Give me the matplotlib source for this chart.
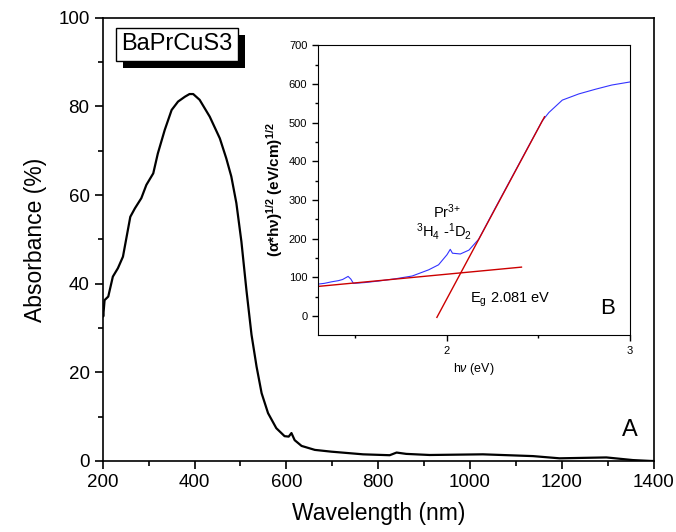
import matplotlib
matplotlib.use('Agg')
import matplotlib.pyplot as plt
import matplotlib.patheffects as pe
import numpy as np

plt.rcParams['font.family'] = ['Liberation Sans', 'DejaVu Sans']
plt.rcParams['mathtext.fontset'] = 'custom'
plt.rcParams['mathtext.rm'] = 'Liberation Sans'
plt.rcParams['mathtext.it'] = 'Liberation Sans:italic'
plt.rcParams['mathtext.bf'] = 'Liberation Sans:bold'

# main spectrum: wavelength (nm) vs absorbance (%)
wavelength = [200, 201, 204, 212, 222, 233, 244, 252, 260, 270, 284, 295, 310, 320,
              335, 350, 364, 379, 389, 397, 411, 433, 455, 469, 480, 491, 502, 513,
              524, 535, 546, 560, 578, 596, 605, 611, 618, 633, 662, 698, 767, 825,
              840, 861, 912, 1028, 1137, 1195, 1297, 1355, 1395, 1400]
absorbance = [34.0, 32.6, 36.3, 37.1, 41.6, 43.5, 46.1, 50.6, 55.1, 57.0, 59.3, 62.3,
              64.9, 69.4, 74.7, 79.2, 81.1, 82.2, 82.8, 82.8, 81.5, 77.7, 72.8, 68.3,
              64.2, 58.2, 49.5, 38.5, 28.5, 21.3, 15.3, 10.8, 7.4, 5.6, 5.5, 6.3, 4.7,
              3.4, 2.5, 2.1, 1.5, 1.3, 1.9, 1.6, 1.35, 1.5, 1.1, 0.6, 0.8, 0.2, 0.0, 0.0]

# inset: Tauc plot
hv = [1.294, 1.33, 1.37, 1.407, 1.43, 1.46, 1.475, 1.489, 1.55, 1.626, 1.72, 1.81,
      1.90, 1.954, 2.0, 2.018, 2.03, 2.073, 2.12, 2.173, 2.265, 2.356, 2.447,
      2.52, 2.557, 2.63, 2.72, 2.81, 2.90, 3.0]
tauc = [82, 84, 88, 91, 94, 102, 95, 84, 86, 90, 96, 103, 119, 132, 158, 172, 162,
        160, 170, 198, 280, 360, 440, 504, 526, 558, 574, 586, 597, 605]

# linear fits (endpoints)
base_x = [1.294, 2.407]
base_y = [76, 126]
edge_x = [1.945, 2.533]
edge_y = [-4, 515]

fig = plt.figure(figsize=(6.76, 5.32), dpi=100)
ax = fig.add_axes([0.152, 0.1335, 0.815, 0.833])
ax.plot(wavelength, absorbance, color='black', linewidth=1.6)
ax.set_xlim(200, 1400)
ax.set_ylim(0, 100)
ax.set_xticks(np.arange(200, 1401, 200))
ax.set_xticks(np.arange(300, 1400, 200), minor=True)
ax.set_yticks(np.arange(0, 101, 20))
ax.set_yticks(np.arange(10, 100, 20), minor=True)
ax.tick_params(which='both', direction='out', top=False, right=False, labelsize=13.5, width=1.2)
ax.tick_params(which='major', length=6)
ax.tick_params(which='minor', length=3.5)
for s in ax.spines.values():
    s.set_linewidth(1.2)
ax.set_xlabel('Wavelength (nm)', fontsize=16.5, labelpad=8)
ax.set_ylabel('Absorbance (%)', fontsize=16.5, labelpad=8)
ax.text(0.971, 0.045, 'A', transform=ax.transAxes, fontsize=17, ha='right', va='bottom')

t = ax.text(0.034, 0.94, 'BaPrCuS3', transform=ax.transAxes, fontsize=17, ha='left', va='center',
            bbox=dict(boxstyle='square,pad=0.22', facecolor='white', edgecolor='black', linewidth=1))
t.get_bbox_patch().set_path_effects([pe.SimplePatchShadow(offset=(5, -5), shadow_rgbFace='black', alpha=1),
                                     pe.Normal()])

ins = fig.add_axes([0.470, 0.370, 0.462, 0.545])
ins.plot(hv, tauc, color='#3333ff', linewidth=0.8)
ins.plot(base_x, base_y, color='#cc0000', linewidth=1.0)
ins.plot(edge_x, edge_y, color='#cc0000', linewidth=1.0)
ins.set_xlim(1.294, 3.0)
ins.set_ylim(-50, 700)
ins.set_xticks([2, 3])
ins.set_xticks([1.5, 2.5], minor=True)
ins.set_yticks(np.arange(0, 701, 100))
ins.set_yticks(np.arange(50, 700, 100), minor=True)
ins.tick_params(which='both', direction='out', top=False, right=False, labelsize=8, width=1)
ins.tick_params(which='major', length=4)
ins.tick_params(which='minor', length=2.5)
ins.set_xlabel(r'h$\nu$ (eV)', fontsize=9)
ins.set_ylabel(r'($\mathbf{\alpha}$*h$\mathbf{\nu}$)$^{\mathbf{1/2}}$ (eV/cm)$^{\mathbf{1/2}}$',
               fontsize=11, fontweight='bold', labelpad=3)
ins.text(2.0, 270, r'Pr$^{3{+}}$', fontsize=10.5, ha='center', va='center')
ins.text(1.985, 218, r'$^{3}$H$_{4}$ -$^{1}$D$_{2}$', fontsize=10.5, ha='center', va='center')
ins.text(2.345, 42, r'E$_{\rm g}$ 2.081 eV', fontsize=10.5, ha='center', va='center')
ins.text(0.952, 0.057, 'B', transform=ins.transAxes, fontsize=16, ha='right', va='bottom')

fig.savefig('out.png', dpi=100)
